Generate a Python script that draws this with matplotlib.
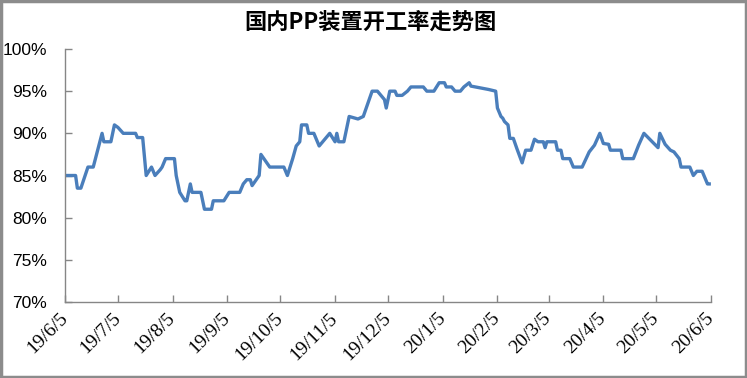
import matplotlib
matplotlib.use("Agg")
import matplotlib.pyplot as plt
import matplotlib.transforms as mtransforms
from matplotlib.patches import Rectangle
import pandas as pd

# ---- data ----
start_date = "2019-06-05"
day_offsets = [0, 6, 7, 9, 13, 16, 21, 22, 26, 28, 30, 33, 40, 41, 44, 46, 49, 51, 54, 55,
               57, 62, 63, 65, 68, 69, 71, 72, 77, 79, 83, 84, 90, 93, 99, 101, 103, 105, 106, 110,
               111, 116, 124, 126, 129, 131, 133, 134, 137, 138, 141, 144, 148, 150, 153, 154, 155, 158, 161, 166,
               169, 174, 177, 181, 182, 184, 187, 188, 191, 194, 196, 203, 205, 209, 212, 215, 216, 219, 221, 224,
               226, 229, 230, 240, 244, 245, 246, 247, 248, 249, 251, 252, 254, 256, 259, 261, 264, 266, 268, 271,
               272, 273, 278, 279, 281, 282, 286, 288, 293, 297, 300, 303, 305, 308, 309, 315, 316, 322, 325, 328,
               336, 337, 340, 343, 345, 348, 349, 354, 356, 358, 361, 364, 365]
rates = [85, 85, 83.5, 83.5, 86, 86, 90, 89, 89, 91, 90.7, 90, 90, 89.5, 89.5, 85, 86, 85, 85.7, 86,
         87, 87, 85, 83, 82, 82, 84, 83, 83, 81, 81, 82, 82, 83, 83, 84, 84.5, 84.5, 83.8, 85,
         87.5, 86, 86, 85, 87, 88.5, 89, 91, 91, 90, 90, 88.5, 89.5, 90, 89, 90, 89, 89, 92, 91.7,
         92, 95, 95, 94, 93, 95, 95, 94.5, 94.5, 95, 95.5, 95.5, 95, 95, 96, 96, 95.5, 95.5, 95, 95,
         95.5, 96, 95.6, 95.2, 95, 93, 92.5, 92, 91.8, 91.4, 91, 89.4, 89.4, 88.2, 86.5, 88, 88, 89.3, 89, 89,
         88.3, 89, 89, 88, 88, 87, 87, 86, 86, 87.8, 88.6, 90, 88.8, 88.7, 88, 88, 87, 87, 88.6, 90,
         88.3, 90, 88.7, 88, 87.8, 87, 86, 86, 85, 85.5, 85.5, 84, 84]
tick_dates = ["2019-06-05", "2019-07-05", "2019-08-05", "2019-09-05", "2019-10-05", "2019-11-05",
              "2019-12-05", "2020-01-05", "2020-02-05", "2020-03-05", "2020-04-05", "2020-05-05",
              "2020-06-05"]
tick_labels = ["19/6/5", "19/7/5", "19/8/5", "19/9/5", "19/10/5", "19/11/5", "19/12/5",
               "20/1/5", "20/2/5", "20/3/5", "20/4/5", "20/5/5", "20/6/5"]
y_ticks = [70, 75, 80, 85, 90, 95, 100]
y_labels = ["70%", "75%", "80%", "85%", "90%", "95%", "100%"]
title = "国内PP装置开工率走势图"

dates = pd.to_datetime(start_date) + pd.to_timedelta(day_offsets, unit="D")
tdates = pd.to_datetime(tick_dates)

fig = plt.figure(figsize=(7.47, 3.78), dpi=100)
ax = fig.add_axes([65 / 747, 1 - 302 / 378, (711 - 65) / 747, (302 - 49) / 378])

ax.plot(dates, rates, color="#4a7ebb", linewidth=2.4, solid_joinstyle="round")

ax.set_xlim(tdates[0], tdates[-1])
ax.set_ylim(70, 100)
ax.set_yticks(y_ticks)
ax.set_yticklabels(y_labels, fontfamily="Liberation Sans", fontsize=12.5)
ax.set_xticks(tdates)
ax.set_xticklabels(tick_labels, fontfamily="Liberation Serif", fontsize=14,
                   rotation=45, ha="right", va="center", rotation_mode="anchor")
offset = mtransforms.ScaledTranslation(5 / 100, 0, fig.dpi_scale_trans)
for lbl in ax.get_xticklabels():
    lbl.set_transform(lbl.get_transform() + offset)

for s in ["top", "right"]:
    ax.spines[s].set_visible(False)
for s in ["left", "bottom"]:
    ax.spines[s].set_color("#868686")
    ax.spines[s].set_linewidth(1.0)
ax.tick_params(axis="both", direction="in", length=5, color="#868686", width=1.0)
ax.tick_params(axis="y", pad=13)
ax.tick_params(axis="x", pad=10)

fig.text(370 / 747, 1 - 22 / 378, title, ha="center", va="center",
         fontsize=16, fontweight="bold", family=["Noto Sans CJK SC", "DejaVu Sans"])

fig.patches.append(Rectangle((0.0015, 0.003), 0.997, 0.994, transform=fig.transFigure,
                             fill=False, edgecolor="#8c8c8c", linewidth=2.5))

fig.savefig("out.png", dpi=100)
